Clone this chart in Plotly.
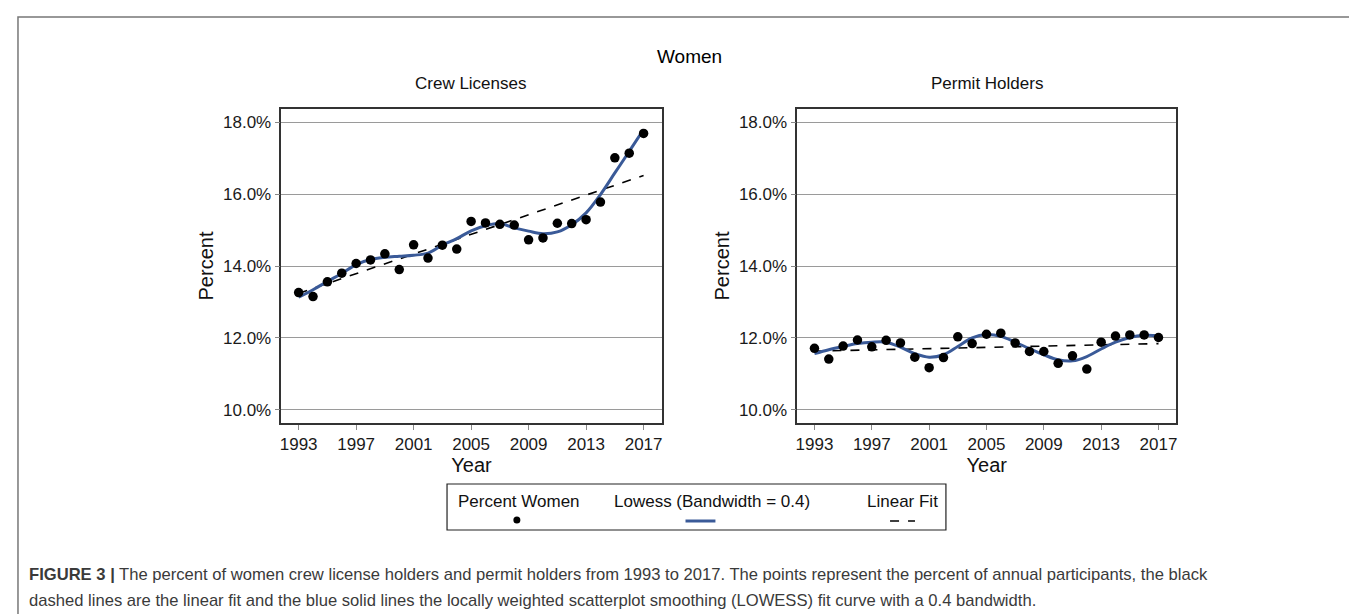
import plotly.graph_objects as go

W, H = 1357, 614

years = list(range(1993, 2018))

crew_pct = [13.26, 13.15, 13.56, 13.80, 14.07, 14.17, 14.34, 13.90, 14.59, 14.22,
            14.58, 14.47, 15.24, 15.20, 15.16, 15.14, 14.73, 14.78, 15.19, 15.18,
            15.29, 15.78, 17.01, 17.14, 17.69]
crew_lowess = [13.13, 13.34, 13.57, 13.79, 14.04, 14.18, 14.24, 14.27, 14.30, 14.36,
               14.58, 14.76, 14.98, 15.12, 15.18, 15.06, 14.97, 14.90, 14.95, 15.15,
               15.48, 15.99, 16.59, 17.19, 17.80]
crew_linear_x = [1993, 2017]
crew_linear_y = [13.24, 16.52]

permit_pct = [11.71, 11.41, 11.77, 11.94, 11.75, 11.93, 11.86, 11.46, 11.17, 11.45,
              12.03, 11.84, 12.10, 12.13, 11.86, 11.62, 11.62, 11.29, 11.50, 11.13,
              11.88, 12.05, 12.08, 12.08, 12.01]
permit_lowess = [11.56, 11.67, 11.76, 11.84, 11.88, 11.88, 11.74, 11.56, 11.46, 11.53,
                 11.76, 12.00, 12.09, 12.04, 11.88, 11.70, 11.53, 11.39, 11.36, 11.48,
                 11.69, 11.88, 12.01, 12.07, 12.06]
permit_linear_x = [1993, 2017]
permit_linear_y = [11.63, 11.84]

x_ticks = [1993, 1997, 2001, 2005, 2009, 2013, 2017]
y_ticks = [10, 12, 14, 16, 18]
y_tick_text = ["10.0%", "12.0%", "14.0%", "16.0%", "18.0%"]

BLUE = "#3A5A98"
FONT = "Liberation Sans, Arial, sans-serif"


def px(x):
    return x / W


def py(y):
    return 1 - y / H


fig = go.Figure()

panels = [
    ("x", "y", crew_pct, crew_lowess, crew_linear_x, crew_linear_y),
    ("x2", "y2", permit_pct, permit_lowess, permit_linear_x, permit_linear_y),
]
for xa, ya, pts, lw, lx, ly in panels:
    fig.add_trace(go.Scatter(x=lx, y=ly, mode="lines", xaxis=xa, yaxis=ya,
                             line=dict(color="black", width=1.6, dash="dash"),
                             showlegend=False, hoverinfo="skip"))
    fig.add_trace(go.Scatter(x=years, y=lw, mode="lines", xaxis=xa, yaxis=ya,
                             line=dict(color=BLUE, width=3, shape="spline", smoothing=1.0),
                             showlegend=False))
    fig.add_trace(go.Scatter(x=years, y=pts, mode="markers", xaxis=xa, yaxis=ya,
                             marker=dict(color="black", size=9.5),
                             showlegend=False))

axis_common = dict(
    showline=True, linecolor="#333333", linewidth=1.5, mirror=True,
    ticks="outside", ticklen=5, tickcolor="#888888",
    tickfont=dict(family=FONT, size=17, color="#1a1a1a"),
    zeroline=False,
)

xdoms = [(px(272), px(653)), (px(789), px(1169))]
ydom = (py(415), py(101))

for i, (xn, yn) in enumerate([("xaxis", "yaxis"), ("xaxis2", "yaxis2")]):
    suffix = "" if i == 0 else "2"
    fig.update_layout(**{
        xn: dict(domain=list(xdoms[i]), range=[1991.8, 2018.25], tickvals=x_ticks,
                 showgrid=False, anchor="y" + suffix,
                 title=dict(text="Year", font=dict(family=FONT, size=20, color="#111111"),
                            standoff=2),
                 **axis_common),
        yn: dict(domain=list(ydom), range=[9.63, 18.37], tickvals=y_ticks,
                 ticktext=y_tick_text,
                 showgrid=True, gridcolor="#9a9a9a", gridwidth=1,
                 anchor="x" + suffix,
                 title=dict(text="Percent", font=dict(family=FONT, size=20, color="#111111"),
                            standoff=4),
                 **axis_common),
    })

ann_base = dict(xref="paper", yref="paper", showarrow=False, xanchor="center", yanchor="middle")
annotations = [
    dict(text="Women", x=px(681), y=py(48),
         font=dict(family=FONT, size=19, color="black"), **ann_base),
    dict(text="Crew Licenses", x=px(462.5), y=py(75),
         font=dict(family=FONT, size=17, color="#111111"), **ann_base),
    dict(text="Permit Holders", x=px(979), y=py(75),
         font=dict(family=FONT, size=17, color="#111111"), **ann_base),
    dict(text="Percent Women", x=px(510), y=py(493),
         font=dict(family=FONT, size=17, color="#111111"), **ann_base),
    dict(text="Lowess (Bandwidth = 0.4)", x=px(704), y=py(493),
         font=dict(family=FONT, size=17, color="#111111"), **ann_base),
    dict(text="Linear Fit", x=px(894), y=py(493),
         font=dict(family=FONT, size=17, color="#111111"), **ann_base),
]
cap_base = dict(xref="paper", yref="paper", showarrow=False, xanchor="left", yanchor="middle",
                align="left")
annotations += [
    dict(text="<b>FIGURE 3 |</b> The percent of women crew license holders and permit holders from 1993 to 2017. "
              "The points represent the percent of annual participants, the black",
         x=px(17), y=py(566), font=dict(family=FONT, size=16.6, color="#3a3a3a"), **cap_base),
    dict(text="dashed lines are the linear fit and the blue solid lines the locally weighted "
              "scatterplot smoothing (LOWESS) fit curve with a 0.4 bandwidth.",
         x=px(17), y=py(592), font=dict(family=FONT, size=16.6, color="#3a3a3a"), **cap_base),
]

shapes = [
    dict(type="rect", xref="paper", yref="paper", x0=px(8), x1=px(1354), y0=py(630), y1=py(9),
         line=dict(color="#777777", width=1.5)),
    dict(type="rect", xref="paper", yref="paper", x0=px(438), x1=px(938), y0=py(522), y1=py(476),
         line=dict(color="#222222", width=1.2)),
    dict(type="circle", xref="paper", yref="paper", x0=px(504.5), x1=px(511.5), y0=py(515.5), y1=py(508.5),
         fillcolor="black", line=dict(color="black", width=0)),
    dict(type="line", xref="paper", yref="paper", x0=px(677), x1=px(707), y0=py(513), y1=py(513),
         line=dict(color=BLUE, width=3)),
    dict(type="line", xref="paper", yref="paper", x0=px(882), x1=px(907), y0=py(513), y1=py(513),
         line=dict(color="black", width=1.6, dash="dash")),
]

fig.update_layout(
    width=W, height=H, margin=dict(l=0, r=0, t=0, b=0),
    paper_bgcolor="white", plot_bgcolor="white",
    annotations=annotations, shapes=shapes, showlegend=False,
    font=dict(family=FONT),
)

fig.write_html("out.html")
